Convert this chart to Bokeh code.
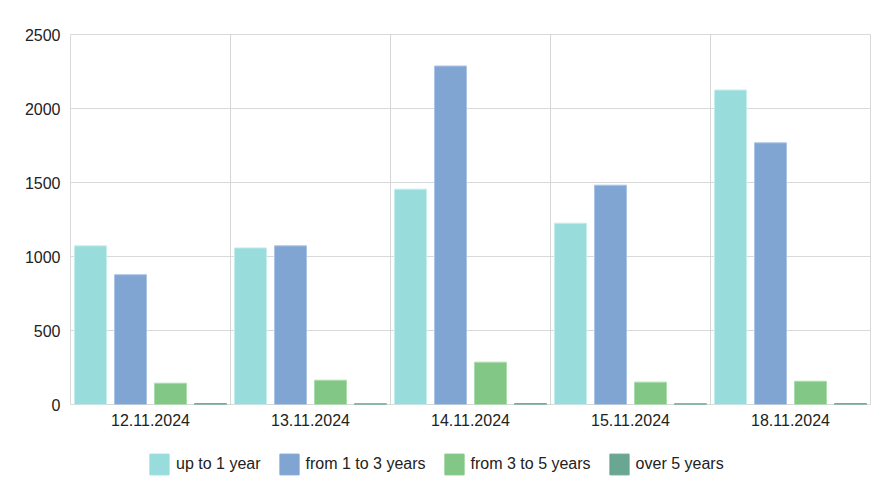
from bokeh.plotting import figure
from bokeh.layouts import column
from bokeh.models import Range1d, FixedTicker, Legend, LegendItem, ColumnDataSource
from bokeh.embed import file_html
from bokeh.resources import INLINE

dates = ["12.11.2024", "13.11.2024", "14.11.2024", "15.11.2024", "18.11.2024"]
series_names = ["up to 1 year", "from 1 to 3 years", "from 3 to 5 years", "over 5 years"]
up_to_1 = [1072, 1058, 1455, 1225, 2125]
from_1_to_3 = [877, 1072, 2287, 1482, 1768]
from_3_to_5 = [144, 164, 286, 151, 157]
over_5 = [6, 5, 6, 5, 6]
colors = ["#98DDDB", "#81A5D3", "#82C785", "#6AA792"]
edge_colors = ["#C4EEEC", "#AAC4E6", "#A9DDAB", "#6AA792"]

FONT = "Liberation Sans"

p = figure(frame_width=800, frame_height=370, output_backend="svg", toolbar_location=None,
           x_range=Range1d(-0.5, 4.5), y_range=Range1d(0, 2500),
           min_border_left=70, min_border_top=34, min_border_right=13, min_border_bottom=27)

all_series = [up_to_1, from_1_to_3, from_3_to_5, over_5]
offsets = [-0.375, -0.125, 0.125, 0.375]
for vals, off, col, ecol in zip(all_series, offsets, colors, edge_colors):
    src = ColumnDataSource(dict(x=[i + off for i in range(len(dates))], top=vals))
    p.vbar(x="x", top="top", bottom=0, width=0.2, source=src,
           fill_color=col, line_color=ecol, line_width=1)

# axes
p.xaxis.ticker = FixedTicker(ticks=list(range(len(dates))))
p.xaxis.major_label_overrides = {i: d for i, d in enumerate(dates)}
p.yaxis.ticker = FixedTicker(ticks=[0, 500, 1000, 1500, 2000, 2500])
for ax in (p.xaxis[0], p.yaxis[0]):
    ax.major_label_text_font = FONT
    ax.major_label_text_font_size = "16px"
    ax.major_label_text_color = "#222222"
    ax.major_tick_line_color = None
    ax.minor_tick_line_color = None
    ax.major_tick_out = 0
    ax.major_tick_in = 0
p.yaxis.axis_line_color = None
p.xaxis.axis_line_color = None
p.yaxis.major_label_standoff = 10
p.xaxis.major_label_standoff = 9

p.xgrid.ticker = FixedTicker(ticks=[-0.5, 0.5, 1.5, 2.5, 3.5, 4.5])
p.xgrid.grid_line_color = "#d6d6d6"
p.ygrid.grid_line_color = "#d9d9d9"
p.outline_line_color = "#d9d9d9"

# legend strip below the chart (swatch renderers sit outside the visible range)
lg = figure(width=883, height=60, output_backend="svg", toolbar_location=None,
            x_range=Range1d(0, 1), y_range=Range1d(0, 1),
            x_axis_type=None, y_axis_type=None, min_border=0)
lg.outline_line_color = None
lg.xgrid.visible = False
lg.ygrid.visible = False
lg_renderers = []
for col in colors:
    lg_renderers.append(lg.vbar(x=[5], top=[5], bottom=[4], width=0.1,
                                fill_color=col, line_color=col, border_radius=3))

legend = Legend(items=[LegendItem(label=n, renderers=[r]) for n, r in zip(series_names, lg_renderers)],
                orientation="horizontal", location=(77, 14))
legend.label_text_font = FONT
legend.label_text_font_size = "16px"
legend.label_text_color = "#222222"
legend.glyph_width = 24
legend.glyph_height = 26
legend.label_standoff = 5
legend.spacing = 16
legend.border_line_color = None
legend.background_fill_alpha = 0
legend.margin = 0
legend.padding = 8
lg.add_layout(legend, "center")

layout = column(p, lg, spacing=0)
open("out.html", "w").write(file_html(layout, INLINE))
